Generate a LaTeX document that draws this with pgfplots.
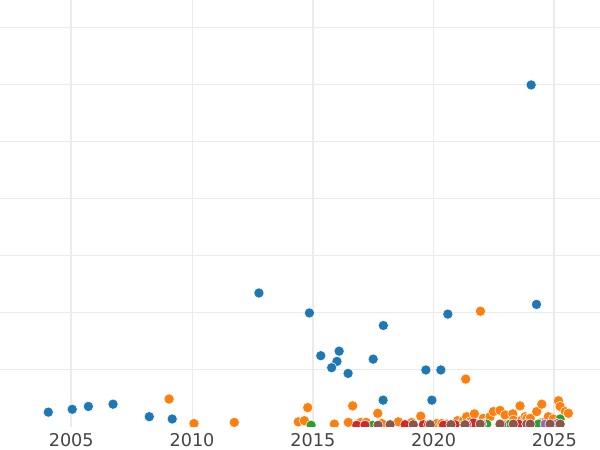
\documentclass[border=0pt]{standalone}
\usepackage{pgfplots}
\pgfplotsset{compat=1.18}
\usepackage{fontspec}
\setmainfont{DejaVu Sans}
\definecolor{cblue}{HTML}{1F77B4}
\definecolor{corange}{HTML}{FF7F0E}
\definecolor{cgreen}{HTML}{2CA02C}
\definecolor{cred}{HTML}{D62728}
\definecolor{cpurple}{HTML}{9467BD}
\definecolor{cbrown}{HTML}{8C564B}
\definecolor{gridgray}{HTML}{EBEBEB}
\definecolor{labelgray}{HTML}{444444}
\begin{document}
\begin{tikzpicture}
\begin{axis}[
	name=ax,
	scale only axis,
	width=340.2pt, height=242.1pt,
	xmin=2002.05, xmax=2026.89,
	ymin=0, ymax=7.49,
	clip marker paths=true,
	axis line style={draw=none},
	major tick length=0pt,
	xtick={2005,2010,...,2025},
	ytick={1,...,7},
	yticklabels={},
	extra x ticks={2005,2015,2025},
	extra x tick labels={},
	extra x tick style={grid style={gridgray, line width=1.1pt}},
	xmajorgrids, ymajorgrids,
	grid style={gridgray, line width=0.6pt},
	/pgf/number format/1000 sep={},
	/pgf/number format/assume math mode=true,
	xticklabel style={text=labelgray, font=\fontsize{10}{12}\selectfont},
	every axis plot/.append style={only marks, mark=*, mark size=2.9pt},
]

% blue
\addplot[mark options={fill=cblue, draw=white, line width=0.3pt}]
coordinates{
	(2004.05, 0.26) (2005.04, 0.31) (2005.71, 0.36) (2006.73, 0.40)
	(2008.23, 0.18) (2009.18, 0.14) (2012.77, 2.35) (2014.86, 2.00)
	(2015.33, 1.25) (2016.09, 1.33) (2016.00, 1.15) (2015.78, 1.04)
	(2016.46, 0.94) (2017.50, 1.19) (2017.92, 1.78) (2017.91, 0.47)
	(2019.68, 1.00) (2020.30, 1.00) (2019.93, 0.47) (2020.59, 1.98)
	(2024.04, 6.00) (2024.26, 2.15)
};

% orange
\addplot[mark options={fill=corange, draw=white, line width=0.3pt}]
coordinates{
	(2009.05, 0.49) (2010.08, 0.06) (2011.75, 0.08) (2014.40, 0.09)
	(2014.65, 0.11) (2014.79, 0.34) (2015.89, 0.05) (2016.47, 0.08)
	(2016.65, 0.37) (2016.99, 0.08) (2017.21, 0.08) (2017.69, 0.24)
	(2017.86, 0.06) (2018.54, 0.09) (2019.10, 0.08) (2019.47, 0.19)
	(2019.65, 0.05) (2020.13, 0.06) (2020.34, 0.06) (2020.56, 0.05)
	(2020.99, 0.11) (2021.23, 0.11) (2021.33, 0.84) (2021.94, 2.03)
	(2021.37, 0.18) (2021.51, 0.09) (2021.69, 0.23) (2022.06, 0.15)
	(2022.17, 0.07) (2022.34, 0.18) (2022.48, 0.27) (2022.75, 0.29)
	(2022.96, 0.21) (2023.04, 0.05) (2023.28, 0.23) (2023.30, 0.12)
	(2023.58, 0.37) (2023.65, 0.12) (2023.79, 0.18) (2023.86, 0.15)
	(2024.00, 0.15) (2024.27, 0.27) (2024.41, 0.07) (2024.48, 0.40)
	(2024.62, 0.09) (2024.75, 0.18) (2024.96, 0.14) (2025.17, 0.46)
	(2025.24, 0.36) (2025.45, 0.27) (2025.58, 0.24)
};

% green
\addplot[mark options={fill=cgreen, draw=white, line width=0.3pt}]
coordinates{
	(2014.93, 0.03) (2017.48, 0.03) (2020.99, 0.03) (2022.20, 0.05)
	(2023.17, 0.05) (2024.34, 0.05) (2025.24, 0.14)
};

% red
\addplot[mark options={fill=cred, draw=white, line width=0.3pt}]
coordinates{
	(2016.82, 0.03) (2017.16, 0.03) (2018.82, 0.04) (2019.58, 0.04)
	(2019.79, 0.04) (2020.41, 0.03) (2020.89, 0.04) (2021.65, 0.07)
	(2022.82, 0.04) (2023.51, 0.05) (2023.86, 0.05) (2025.10, 0.06)
};

% purple
\addplot[mark options={fill=cpurple, draw=white, line width=0.3pt}]
coordinates{
	(2021.37, 0.04) (2021.99, 0.05) (2024.62, 0.05) (2025.03, 0.04)
};

% brown
\addplot[mark options={fill=cbrown, draw=white, line width=0.3pt}]
coordinates{
	(2017.70, 0.03) (2018.20, 0.04) (2019.16, 0.04) (2019.86, 0.04)
	(2020.72, 0.04) (2021.30, 0.04) (2021.93, 0.05) (2022.75, 0.05)
	(2023.30, 0.05) (2023.86, 0.05) (2024.00, 0.05) (2024.82, 0.05)
	(2025.24, 0.05)
};
\end{axis}
\pgfresetboundingbox
\path[use as bounding box] ([yshift=-13pt]ax.south west) rectangle (ax.north east);
\end{tikzpicture}
\end{document}
